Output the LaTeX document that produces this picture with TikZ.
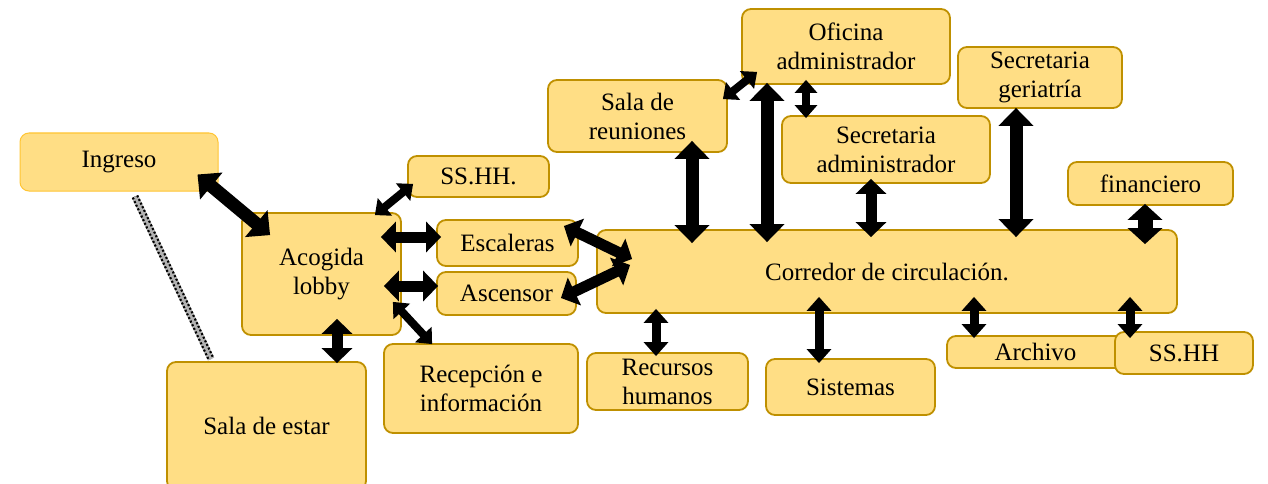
\documentclass[tikz,border=0pt]{standalone}
\usepackage{fontspec}
\setmainfont{Liberation Serif}
\usetikzlibrary{arrows.meta,calc}
\definecolor{Box}{HTML}{FFDE85}
\definecolor{Edge}{HTML}{BF9000}
\definecolor{EdgeLight}{HTML}{FFC533}

\begin{document}
\begin{tikzpicture}[x=1pt,y=-1pt,
    p/.style={draw=Edge,line width=1.8pt,fill=Box,rounded corners=9pt,align=center,inner sep=0pt,font=\fontsize{25}{29}\selectfont},
    big/.style={{Triangle[width=34pt,length=18pt]}-{Triangle[width=34pt,length=18pt]},line width=13pt},
    fat/.style={{Triangle[width=34pt,length=16pt]}-{Triangle[width=34pt,length=16pt]},line width=15pt},
    mid/.style={{Triangle[width=30pt,length=15pt]}-{Triangle[width=30pt,length=15pt]},line width=11pt},
    sml/.style={{Triangle[width=24pt,length=14pt]}-{Triangle[width=24pt,length=14pt]},line width=9pt},
    thn/.style={{Triangle[width=22pt,length=13pt]}-{Triangle[width=22pt,length=13pt]},line width=8pt}]
    \useasboundingbox (0,0) rectangle (1268,484);
    \clip (0,0) rectangle (1268,484);
    % left part
    \node[p,draw=EdgeLight,line width=1pt,minimum width=198pt,minimum height=58pt] (ingreso) at (119,162) {Ingreso};
    \node[p,minimum width=159pt,minimum height=122pt] (acogida) at (321.5,274) {Acogida\\lobby};
    \node[p,minimum width=199pt,minimum height=128pt] (estar) at (266.5,426) {Sala de estar};
    \node[p,minimum width=141pt,minimum height=41pt] (sshhA) at (478.5,176.5) {SS.HH.};
    \node[p,minimum width=141pt,minimum height=46pt] (escal) at (507.5,243) {Escaleras};
    \node[p,minimum width=139pt,minimum height=43pt] (ascen) at (506.5,293.5) {Ascensor};
    \node[p,minimum width=194pt,minimum height=89pt] (recep) at (481,388.5) {Recepción e\\información};
    % corridor and offices
    \node[p,minimum width=580pt,minimum height=83pt] (corr) at (887,271.5) {Corredor de circulación.};
    \node[p,minimum width=179pt,minimum height=72pt] (reun) at (637.5,116) {Sala de\\reuniones};
    \node[p,minimum width=208pt,minimum height=75pt] (ofic) at (846,46.5) {Oficina\\administrador};
    \node[p,minimum width=208pt,minimum height=67pt] (secadm) at (886,149.5) {Secretaria\\administrador};
    \node[p,minimum width=164pt,minimum height=61pt] (secger) at (1040,77.5) {Secretaria\\geriatría};
    \node[p,minimum width=165pt,minimum height=43pt] (finan) at (1150.5,183.5) {financiero};
    \node[p,minimum width=161pt,minimum height=57pt] (rrhh) at (667.5,381.5) {Recursos\\humanos};
    \node[p,minimum width=169pt,minimum height=56pt] (sist) at (850.5,387) {Sistemas};
    \node[p,minimum width=177pt,minimum height=32pt] (archivo) at (1035.5,352) {Archivo};
    \node[p,minimum width=138pt,minimum height=42pt] (sshhB) at (1184,353) {SS.HH};
    % dotted link
    \draw[line width=7pt,gray!60,postaction={draw=black,dash pattern=on 2pt off 2pt},
      postaction={draw=gray!60,line width=2.5pt}]
      ($(ingreso.south)+(16,5)$) -- ($(estar.north west)+(45,-2)$);
    % arrows
    \draw[big] ($(ingreso.south east)+(-21,-17)$) -- ($(acogida.north west)+(29,23)$);
    \draw[thn] ($(acogida.north east)+(-27,3)$) -- ($(sshhA.south west)+(6,-14)$);
    \draw[mid] ($(acogida.east)+(-21,-37)$) -- ($(escal.west)+(5,-6)$);
    \draw[mid] ($(acogida.east)+(-18,12)$) -- ($(ascen.west)+(2,-7.5)$);
    \draw[thn] ($(acogida.south east)+(-9,-34)$) -- ($(recep.north west)+(49,1)$);
    \draw[mid] ($(acogida.south)+(15.5,-17)$) -- ($(estar.north)+(70.5,2)$);
    \draw[mid] ($(escal.east)+(-15,-17)$) -- ($(corr.west)+(36,-12.5)$);
    \draw[mid] ($(ascen.east)+(-16,4.5)$) -- ($(corr.west)+(34,-6.5)$);
    \draw[big] ($(reun.south)+(54.5,-12)$) -- ($(corr.north)+(-195,14)$);
    \draw[big] ($(ofic.south)+(-79,-2)$) -- ($(corr.north)+(-120,13)$);
    \draw[thn] ($(ofic.south west)+(16,-13)$) -- ($(reun.north east)+(-5,20)$);
    \draw[thn] ($(ofic.south)+(-40,-5)$) -- ($(secadm.north)+(-80,3)$);
    \draw[mid] ($(secadm.south)+(-15,-5)$) -- ($(corr.north)+(-16,8)$);
    \draw[big] ($(secger.south)+(-24,-1)$) -- ($(corr.north)+(129,8)$);
    \draw[fat] ($(finan.south)+(-5.5,-2)$) -- ($(corr.north)+(258,15)$);
    \draw[sml] ($(corr.south)+(-231,-5)$) -- ($(rrhh.north)+(-11.5,4)$);
    \draw[sml] ($(corr.south)+(-68,-17)$) -- ($(sist.north)+(-31.5,5)$);
    \draw[sml] ($(corr.south)+(87,-17)$) -- ($(archivo.north)+(-61.5,3)$);
    \draw[sml] ($(corr.south)+(243,-17)$) -- ($(sshhB.north)+(-54,7)$);
\end{tikzpicture}
\end{document}
